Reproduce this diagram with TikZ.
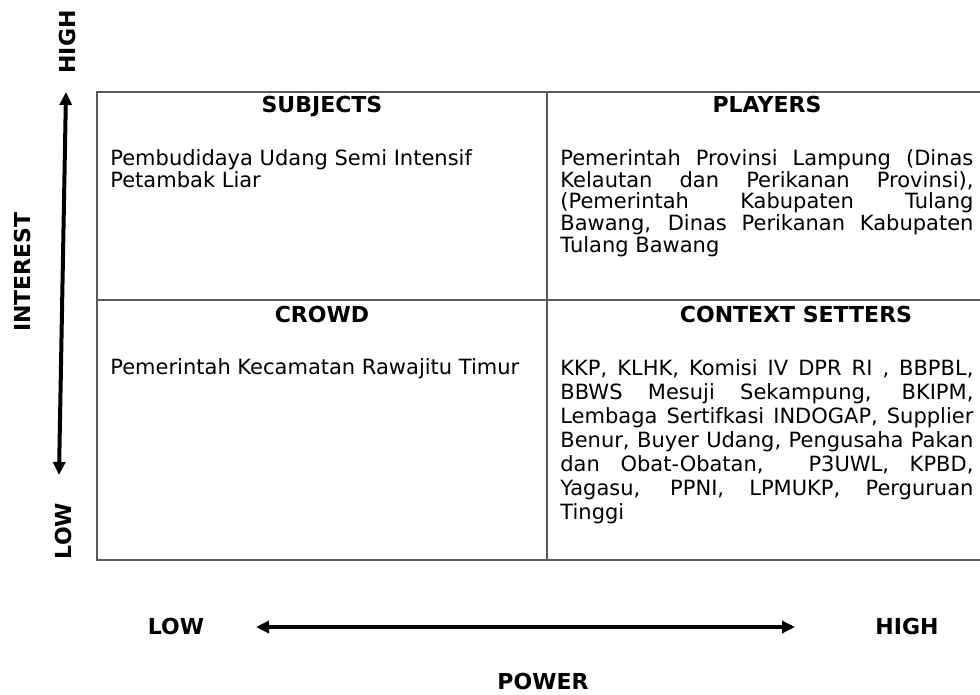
\documentclass[tikz,border=0pt]{standalone}
\usepackage{fontspec}
\setmainfont{DejaVu Sans}
\usetikzlibrary{arrows.meta}
\tikzstyle{head}=[font=\fontsize{11}{12}\selectfont\bfseries, inner sep=0pt, anchor=base]
\tikzstyle{axislabel}=[font=\fontsize{11}{12}\selectfont\bfseries, inner sep=0pt]
\tikzstyle{bodyleft}=[font=\fontsize{10.5}{10.85}\selectfont, inner sep=0pt, anchor=north west, align=left]
\tikzstyle{bodyright}=[font=\fontsize{10.5}{10.85}\selectfont, inner sep=0pt, anchor=north west, text width=206.5pt, align=justify]
\tikzstyle{gridline}=[draw=black!65, line width=0.6pt]
\tikzstyle{bigarrow}=[line width=2pt, {Triangle[length=6.5pt,width=6pt]}-{Triangle[length=6.5pt,width=6pt]}]

\begin{document}
\begin{tikzpicture}[x=0.5pt, y=-0.5pt]
	\useasboundingbox (0,0) rectangle (980,695);

	% matrix
	\draw[gridline] (97,92) rectangle (990,560);
	\draw[gridline] (97,300) -- (990,300);
	\draw[gridline] (547,92) -- (547,560);

	\node[head] (subjects) at (322,113) {SUBJECTS};
	\node[head] (players) at (767,113) {PLAYERS};
	\node[head] (crowd) at (322,322) {CROWD};
	\node[head] (setters) at (796,322) {CONTEXT SETTERS};

	\node[bodyleft] (subjtext) at (110,149) {Pembudidaya Udang Semi Intensif\\Petambak Liar};
	\node[bodyright] (playtext) at (560,149) {Pemerintah Provinsi Lampung (Dinas\linebreak Kelautan dan Perikanan Provinsi),\linebreak (Pemerintah Kabupaten Tulang\linebreak Bawang, Dinas Perikanan Kabupaten\linebreak Tulang Bawang};
	\node[bodyleft] (crowdtext) at (110,358) {Pemerintah Kecamatan Rawajitu Timur};
	\node[bodyright, font=\fontsize{10.5}{12}\selectfont] (settext) at (560,359) {KKP, KLHK, Komisi IV DPR RI , BBPBL,\linebreak BBWS Mesuji Sekampung, BKIPM,\linebreak Lembaga Sertifkasi INDOGAP, Supplier\linebreak Benur, Buyer Udang, Pengusaha Pakan\linebreak dan Obat-Obatan,~ P3UWL, KPBD,\linebreak Yagasu, PPNI, LPMUKP, Perguruan\linebreak Tinggi};

	% interest axis
	\coordinate (itop) at (66,92);
	\coordinate (ibot) at (59,475);
	\draw[bigarrow] (ibot) -- (itop);
	\node[axislabel, rotate=90] (ihigh) at (67,42) {HIGH};
	\node[axislabel, rotate=90] (interest) at (22,272) {INTEREST};
	\node[axislabel, rotate=90] (ilow) at (63,531) {LOW};

	% power axis
	\coordinate (pleft) at (256,627);
	\coordinate (pright) at (795,627);
	\draw[bigarrow] (pleft) -- (pright);
	\node[axislabel] (plow) at (176,626) {LOW};
	\node[axislabel] (phigh) at (907,626) {HIGH};
	\node[axislabel] (power) at (543,681) {POWER};
\end{tikzpicture}
\end{document}
